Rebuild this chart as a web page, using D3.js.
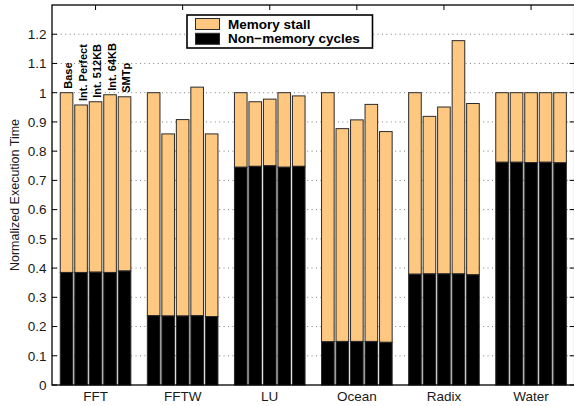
<!DOCTYPE html>
<html>
<head>
<meta charset="utf-8">
<script src="https://cdn.jsdelivr.net/npm/d3@7"></script>
<style>
  html, body { margin: 0; padding: 0; background: #fff; }
  svg { display: block; font-family: "Liberation Sans", Arial, Helvetica, sans-serif; }
</style>
</head>
<body>
<svg id="chart" width="574" height="406"></svg>
<script>
// Benchmarks along the x axis and the five configurations within each group
const benchmarks = ["FFT", "FFTW", "LU", "Ocean", "Radix", "Water"];
const configs = ["Base", "Int. Perfect", "Int. 512KB", "Int. 64KB", "SMTp"];

// Total normalized execution time per benchmark (one value per configuration)
const totalTime = [
  [1.00, 0.958, 0.969, 0.993, 0.986],
  [1.00, 0.859, 0.908, 1.019, 0.859],
  [1.00, 0.969, 0.978, 1.00, 0.989],
  [1.00, 0.877, 0.907, 0.960, 0.867],
  [1.00, 0.919, 0.951, 1.178, 0.963],
  [1.00, 1.00, 1.00, 1.00, 1.00]
];
// Non-memory cycles portion (bottom segment); memory stall is the remainder
const nonMemory = [
  [0.385, 0.385, 0.386, 0.385, 0.390],
  [0.237, 0.236, 0.236, 0.237, 0.234],
  [0.745, 0.748, 0.750, 0.745, 0.748],
  [0.148, 0.149, 0.149, 0.149, 0.146],
  [0.379, 0.380, 0.380, 0.380, 0.377],
  [0.762, 0.762, 0.761, 0.762, 0.760]
];
const yTicks = [0, 0.1, 0.2, 0.3, 0.4, 0.5, 0.6, 0.7, 0.8, 0.9, 1, 1.1, 1.2];
const yTickLabels = ["0", "0.1", "0.2", "0.3", "0.4", "0.5", "0.6", "0.7", "0.8", "0.9", "1", "1.1", "1.2"];
const legendItems = ["Memory stall", "Non\u2212memory cycles"];

const colorStall = "#ffc880";
const colorNonMem = "#000000";

const svg = d3.select("#chart");
const plotLeft = 52, plotRight = 574.6, plotTop = 5, plotBottom = 385;

const x = d3.scaleLinear().domain([0.5, benchmarks.length + 0.5]).range([plotLeft, plotRight]);
const y = d3.scaleLinear().domain([0, 1.3]).range([plotBottom, plotTop]);
const inner = d3.scaleBand().domain(configs).range([-35.3, 35.3]).paddingInner(0.13);

// dotted horizontal grid
svg.append("g").selectAll("line")
  .data(yTicks.filter(d => d > 0))
  .join("line")
  .attr("x1", plotLeft).attr("x2", plotRight)
  .attr("y1", d => y(d)).attr("y2", d => y(d))
  .attr("stroke", "#808080").attr("stroke-width", 1)
  .attr("stroke-dasharray", "1,3.4");

// stacked bars
const groups = svg.append("g").selectAll("g")
  .data(benchmarks)
  .join("g")
  .attr("transform", (d, i) => `translate(${x(i + 1)},0)`);

groups.each(function (b, i) {
  const g = d3.select(this);
  configs.forEach((c, j) => {
    const bx = inner(c), bw = inner.bandwidth();
    // memory stall segment (top)
    g.append("rect")
      .attr("x", bx).attr("width", bw)
      .attr("y", y(totalTime[i][j]))
      .attr("height", y(nonMemory[i][j]) - y(totalTime[i][j]))
      .attr("fill", colorStall)
      .attr("stroke", "#2a2a2a").attr("stroke-width", 1);
    // non-memory segment (bottom)
    g.append("rect")
      .attr("x", bx).attr("width", bw)
      .attr("y", y(nonMemory[i][j]))
      .attr("height", y(0) - y(nonMemory[i][j]))
      .attr("fill", colorNonMem)
      .attr("stroke", "#2a2a2a").attr("stroke-width", 1);
  });
});

// configuration labels above the first group's bars
svg.append("g").selectAll("text")
  .data(configs)
  .join("text")
  .attr("transform", (c, j) => {
    const tx = x(1) + inner(c) + inner.bandwidth() - 0.5;
    const ty = y(totalTime[0][j]) - 4;
    return `translate(${tx},${ty}) rotate(-90)`;
  })
  .attr("font-size", 11).attr("font-weight", "bold")
  .attr("fill", "#000")
  .text(d => d);

// frame
svg.append("rect")
  .attr("x", plotLeft).attr("y", plotTop)
  .attr("width", plotRight - plotLeft).attr("height", plotBottom - plotTop)
  .attr("fill", "none").attr("stroke", "#000").attr("stroke-width", 1.3);

// y ticks on both sides (inward)
const yt = svg.append("g");
yTicks.forEach(t => {
  yt.append("line").attr("x1", plotLeft).attr("x2", plotLeft + 5)
    .attr("y1", y(t)).attr("y2", y(t)).attr("stroke", "#000");
  yt.append("line").attr("x1", plotRight - 5).attr("x2", plotRight)
    .attr("y1", y(t)).attr("y2", y(t)).attr("stroke", "#000");
});
svg.append("g").selectAll("text")
  .data(yTicks)
  .join("text")
  .attr("x", plotLeft - 5.5).attr("y", d => y(d))
  .attr("dy", "0.36em")
  .attr("text-anchor", "end")
  .attr("font-size", 13.5).attr("fill", "#1a1a1a")
  .text((d, i) => yTickLabels[i]);

// x ticks (top and bottom, inward)
const xt = svg.append("g");
benchmarks.forEach((b, i) => {
  xt.append("line").attr("x1", x(i + 1)).attr("x2", x(i + 1))
    .attr("y1", plotTop).attr("y2", plotTop + 5).attr("stroke", "#000");
  xt.append("line").attr("x1", x(i + 1)).attr("x2", x(i + 1))
    .attr("y1", plotBottom - 5).attr("y2", plotBottom).attr("stroke", "#000");
});
svg.append("g").selectAll("text")
  .data(benchmarks)
  .join("text")
  .attr("x", (d, i) => x(i + 1)).attr("y", 401)
  .attr("text-anchor", "middle")
  .attr("font-size", 13.5).attr("fill", "#1a1a1a")
  .text(d => d);

// y axis title
svg.append("text")
  .attr("transform", `translate(19,${(plotTop + plotBottom) / 2}) rotate(-90)`)
  .attr("text-anchor", "middle")
  .attr("font-size", 12.5).attr("fill", "#1a1a1a")
  .text("Normalized Execution Time");

// legend
const lg = svg.append("g");
lg.append("rect")
  .attr("x", 187).attr("y", 15).attr("width", 185.5).attr("height", 33)
  .attr("fill", "#fff").attr("stroke", "#000").attr("stroke-width", 1.6);
const swatchColors = [colorStall, colorNonMem];
legendItems.forEach((name, k) => {
  const sy = 18.5 + k * 14.8;
  lg.append("rect")
    .attr("x", 195.5).attr("y", sy).attr("width", 24).attr("height", 11)
    .attr("fill", swatchColors[k]).attr("stroke", "#2a2a2a").attr("stroke-width", 1);
  lg.append("text")
    .attr("x", 228).attr("y", sy + 10)
    .attr("font-size", 13.5).attr("font-weight", "bold").attr("fill", "#000")
    .text(name);
});
</script>
</body>
</html>
